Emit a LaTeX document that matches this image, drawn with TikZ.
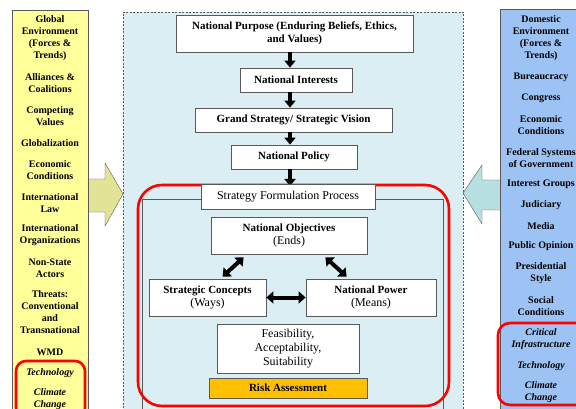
\documentclass[tikz,border=0pt]{standalone}
\usepackage{fontspec}
\setmainfont{Liberation Serif}
\usetikzlibrary{arrows.meta, positioning, calc}
\definecolor{envyellow}{HTML}{FFFF99}
\definecolor{envblue}{HTML}{9DC3F5}
\definecolor{midfill}{HTML}{DBEEF4}
\definecolor{linegray}{HTML}{595959}
\definecolor{arrowyellow}{HTML}{E3E397}
\definecolor{arrowteal}{HTML}{B7DEE0}
\definecolor{riskfill}{HTML}{FFC000}
\definecolor{hilite}{HTML}{FF0000}
\newcommand{\regtxt}[1]{{\fontsize{12}{14}\selectfont #1}}
\tikzset{
  panel/.style={draw=linegray, thin},
  wbox/.style={draw=linegray, thick, fill=white, align=center, inner sep=1pt,
               font=\fontsize{11}{13}\selectfont},
  regbox/.style={wbox, font=\fontsize{12}{14}\selectfont},
  envtxt/.style={align=center, inner sep=0pt, font=\bfseries\fontsize{10}{12}\selectfont},
  down/.style={-{Triangle[length=7pt,width=11pt]}, line width=4pt, black},
  both/.style={{Triangle[length=7pt,width=12pt]}-{Triangle[length=7pt,width=12pt]},
               line width=4pt, black},
  ring/.style={draw=hilite, line width=2.6pt},
  bigarrow/.style={draw=linegray, thin},
}

\begin{document}
\begin{tikzpicture}[x=1pt,y=-1pt]
  \useasboundingbox (0,0) rectangle (576,409);
  \clip (0,0) rectangle (576,409);

  \fill[midfill] (123,12) rectangle (463,415);
  \draw[linegray, dash pattern=on 2pt off 1.5pt] (123,415) -- (123,12) -- (463,12) -- (463,415);

  \node[wbox, minimum width=237pt, minimum height=37pt] (purpose) at (294.5,33.5)
    {\textbf{National Purpose (Enduring Beliefs, Ethics,}\\\textbf{and Values)}};
  \node[wbox, minimum width=112pt, minimum height=24pt] (interests) at (296,80) {\textbf{National Interests}};
  \node[wbox, minimum width=197pt, minimum height=24pt] (grand) at (293.5,120) {\textbf{Grand Strategy/ Strategic Vision}};
  \node[wbox, minimum width=126pt, minimum height=24pt] (policy) at (294,157) {\textbf{National Policy}};

  \draw[down] ([xshift=-4.5pt]purpose.south) -- ([xshift=-6pt]interests.north);
  \draw[down] ([xshift=-6pt]interests.south) -- ([xshift=-3.5pt]grand.north);
  \draw[down] ([xshift=-3.5pt]grand.south) -- ([xshift=-4pt]policy.north);
  \draw[down] ([xshift=-4pt]policy.south) -- (290,186);

  \draw[linegray, thin] (142,199) rectangle (443,409);
  \draw[ring, rounded corners=24pt] (138,185) rectangle (449,406);

  \node[regbox, minimum width=174pt, minimum height=25pt] (sfp) at (288,197) {Strategy Formulation Process};
  \node[wbox, minimum width=156pt, minimum height=37pt] (objectives) at (289,235.5)
    {\textbf{National Objectives}\\\regtxt{(Ends)}};
  \node[wbox, minimum width=117pt, minimum height=37pt] (concepts) at (207.5,297.5)
    {\textbf{Strategic Concepts}\\\regtxt{(Ways)}};
  \node[wbox, minimum width=130pt, minimum height=37pt] (power) at (371,297.5)
    {\textbf{National Power}\\\regtxt{(Means)}};
  \node[regbox, minimum width=142pt, minimum height=49pt] (feas) at (288,348.5)
    {Feasibility,\\Acceptability,\\Suitability};
  \node[wbox, fill=riskfill, minimum width=158pt, minimum height=20pt] (risk) at (288,388)
    {\textbf{Risk Assessment}};

  \draw[both] ([xshift=33pt,yshift=-3pt]objectives.south west) -- ([xshift=74pt,yshift=2pt]concepts.north west);
  \draw[both] ([xshift=-42pt,yshift=-3pt]objectives.south east) -- ([xshift=41pt,yshift=2pt]power.north west);
  \draw[both] (concepts) -- (power);

  \draw[bigarrow, fill=arrowyellow] (86,179) -- (105,179) -- (105,163) -- (123,194)
    -- (105,226) -- (105,212) -- (86,212) -- cycle;
  \draw[bigarrow, fill=arrowteal] (502,180) -- (482,180) -- (482,165) -- (463,193)
    -- (482,224) -- (482,210) -- (502,210) -- cycle;

  \draw[panel, fill=envyellow] (12,10) rectangle (88,415);
  \foreach \ty/\txt [count=\i] in {38/{Global\\Environment\\(Forces \&\\Trends)},
      83/{Alliances \&\\Coalitions}, 116/{Competing\\Values}, 143/{Globalization},
      170/{Economic\\Conditions}, 203/{International\\Law},
      235/{International\\Organizations}, 268/{Non-State\\Actors},
      312.5/{Threats:\\Conventional\\and\\Transnational}, 352/{WMD},
      373/{\textit{Technology}}, 399.5/{\textit{Climate}\\\textit{Change}}}{
    \node[envtxt] (g\i) at (50,\ty) {\txt};
  }
  \draw[ring, rounded corners=10pt] (16,361) rectangle (85,418);

  \draw[panel, fill=envblue] (500,9) rectangle (585,415);
  \foreach \ty/\txt [count=\i] in {38/{Domestic\\Environment\\(Forces \&\\Trends)},
      77/{Bureaucracy}, 98/{Congress}, 125/{Economic\\Conditions},
      158/{Federal Systems\\of Government}, 184/{Interest Groups},
      205/{Judiciary}, 226/{Media}, 246/{Public Opinion},
      273/{Presidential\\Style}, 306/{Social\\Conditions},
      339/{\textit{Critical}\\\textit{Infrastructure}}, 366/{\textit{Technology}},
      392/{\textit{Climate}\\\textit{Change}}}{
    \node[envtxt] (d\i) at (541,\ty) {\txt};
  }
  \draw[ring, rounded corners=12pt] (498,323) rectangle (590,405);
\end{tikzpicture}
\end{document}
